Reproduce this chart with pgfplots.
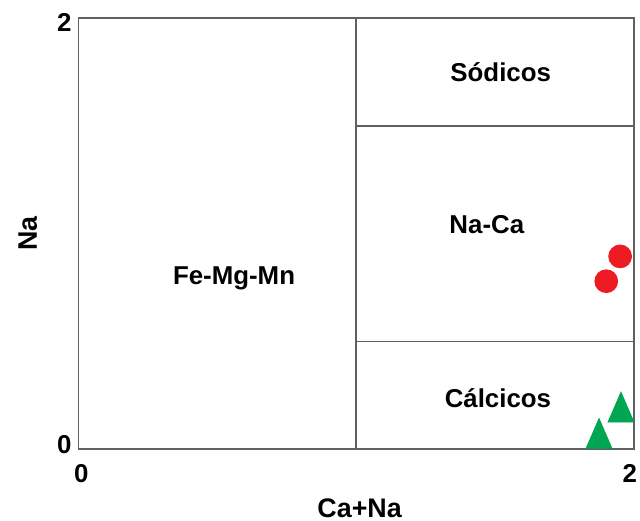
\documentclass[border=0pt]{standalone}
\usepackage{pgfplots}
\pgfplotsset{compat=1.18}
\usepackage{fontspec}
\setmainfont{Liberation Sans}
\definecolor{mred}{HTML}{ED1C24}
\definecolor{mgreen}{HTML}{00A651}
\definecolor{frame}{HTML}{606060}
\begin{document}
\begin{tikzpicture}
\begin{axis}[
  scale only axis,
  width=279.5pt, height=217pt,
  xmin=0, xmax=2, ymin=0, ymax=2,
  xtick={0.01,1.985}, xticklabels={0,2},
  ytick={0.023,1.977}, yticklabels={0,2},
  major tick length=0pt,
  /pgf/number format/assume math mode=true,
  tick label style={font=\fontsize{13}{15}\selectfont\bfseries},
  x tick label style={yshift=-4pt},
  label style={font=\fontsize{13.5}{16}\selectfont\bfseries},
  xlabel={Ca+Na}, ylabel={Na},
  x label style={at={(axis description cs:0.506,-0.136)}, anchor=center},
  y label style={at={(axis description cs:-0.0913,0.5)}, anchor=center},
  axis line style={frame, line width=0.8pt},
  clip=false,
]
\coordinate (SW) at (rel axis cs:0,0);
\coordinate (NE) at (rel axis cs:1,1);
\draw[frame, line width=0.8pt] (axis cs:1,0) -- (axis cs:1,2);
\draw[frame, line width=0.8pt] (axis cs:1,1.5) -- (axis cs:2,1.5);
\draw[frame, line width=0.8pt] (axis cs:1,0.5) -- (axis cs:2,0.5);
\node[font=\fontsize{13}{15}\selectfont\bfseries] at (axis cs:1.52,1.75) {Sódicos};
\node[font=\fontsize{13}{15}\selectfont\bfseries] at (axis cs:1.47,1.04) {Na-Ca};
\node[font=\fontsize{13}{15}\selectfont\bfseries] at (axis cs:0.56,0.79) {Fe-Mg-Mn};
\node[font=\fontsize{13}{15}\selectfont\bfseries] at (axis cs:1.51,0.235) {Cálcicos};
\addplot[only marks, mark=*, mark size=5.75pt, color=mred, mark options={draw=mred, fill=mred}]
  coordinates {(1.95,0.894) (1.90,0.779)};
\addplot[only marks, mark=triangle*, mark size=10pt, color=mgreen, mark options={draw=mgreen, fill=mgreen, xscale=0.75}]
  coordinates {(1.953,0.172) (1.874,0.05)};
\end{axis}
\pgfresetboundingbox
\path[use as bounding box] ([shift={(-39.5pt,-36pt)}]SW) rectangle ([shift={(3pt,9pt)}]NE);
\end{tikzpicture}
\end{document}
